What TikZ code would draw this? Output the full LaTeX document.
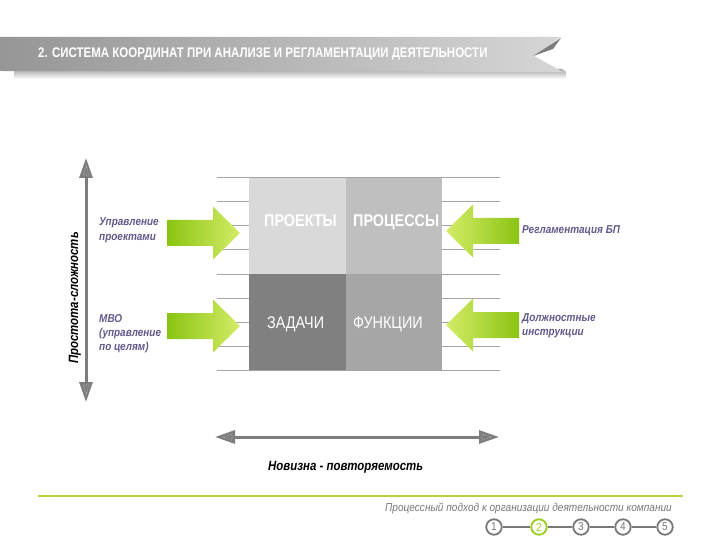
\documentclass[tikz,border=0pt]{standalone}
\usepackage{fontspec}
\setmainfont{Liberation Sans}
\newfontfamily\titlefont[FakeStretch=0.825]{Liberation Sans}
\newfontfamily\cellfont[FakeStretch=0.85]{Liberation Sans}
\newfontfamily\lblfont[FakeStretch=0.87]{Liberation Sans}
\newfontfamily\axfont[FakeStretch=0.85]{Liberation Sans}
\newfontfamily\footfont[FakeStretch=0.88]{Liberation Sans}
\usetikzlibrary{arrows.meta}
\definecolor{banL}{RGB}{150,150,150}
\definecolor{banR}{RGB}{214,214,214}
\definecolor{banD}{RGB}{125,125,125}
\definecolor{lblc}{RGB}{100,88,140}
\definecolor{gdark}{RGB}{138,196,18}
\definecolor{glight}{RGB}{212,236,104}
\definecolor{cA}{RGB}{217,217,217}
\definecolor{cB}{RGB}{191,191,191}
\definecolor{cC}{RGB}{128,128,128}
\definecolor{cD}{RGB}{166,166,166}
\definecolor{axisc}{RGB}{125,125,125}
\definecolor{gridc}{RGB}{165,165,165}
\definecolor{footg}{RGB}{180,210,70}
\definecolor{footc}{RGB}{120,120,120}
\definecolor{numg}{RGB}{154,204,30}
\begin{document}
\begin{tikzpicture}[x=1bp,y=-1bp,
  cell/.style={draw=none, minimum width=96.5bp, minimum height=96bp, inner sep=0pt},
  celltxt/.style={text=white, inner sep=0pt, anchor=base west, font=\cellfont\fontsize{17}{20}\selectfont},
  lbl/.style={text=lblc, inner sep=0pt, anchor=base west, font=\lblfont\fontsize{11.5}{14}\selectfont\bfseries\itshape},
  axlbl/.style={text=black, inner sep=0pt, anchor=base west, font=\axfont\fontsize{13.5}{16}\selectfont\bfseries\itshape},
  gline/.style={draw=gridc, line width=1bp},
  axisline/.style={draw=axisc, line width=3bp, {Triangle[length=20bp,width=13bp]}-{Triangle[length=20bp,width=13bp]}},
  tipmark/.style={draw=white!80!axisc, line width=0.6bp, dotted},
  stepc/.style={circle, draw=footc, line width=1.8bp, minimum size=15.5bp, inner sep=0pt, fill=white, text=footc, font=\footfont\fontsize{11.5}{13}\selectfont},
  stepline/.style={draw=footc, line width=1.5bp}
]
\useasboundingbox (0,0) rectangle (720,540);
\fill[white] (0,0) rectangle (720,540);

% banner shadow
\shade[top color=black!35, bottom color=white] (14,69) -- (562,69) -- (566,72) -- (566,79) -- (14,79) -- cycle;
% banner
\shade[left color=banL, right color=banR] (0,37) -- (561,37) -- (534,56) -- (563,72) -- (0,71) -- cycle;
\fill[banD] (533,56) -- (561,38) -- (553,49) -- cycle;
\node[anchor=base west, inner sep=0pt, text=white, font=\titlefont\fontsize{14}{16}\selectfont\bfseries] (title) at (38,58) {2. СИСТЕМА КООРДИНАТ ПРИ АНАЛИЗЕ И РЕГЛАМЕНТАЦИИ ДЕЯТЕЛЬНОСТИ};

% grid lines
\foreach \yy in {178,202,226,250,274,298,322,346,370}
  \draw[gline] (217,\yy) -- (500,\yy);

% cells
\node[cell, fill=cA] (proj) at (297.25,226) {};
\node[cell, fill=cB] (proc) at (393.75,226) {};
\node[cell, fill=cC] (task) at (297.25,322) {};
\node[cell, fill=cD] (func) at (393.75,322) {};
\node[celltxt, font=\cellfont\fontsize{17}{20}\selectfont\bfseries] (tproj) at (264,227) {ПРОЕКТЫ};
\node[celltxt, font=\cellfont\fontsize{17}{20}\selectfont\bfseries] (tproc) at (353,227) {ПРОЦЕССЫ};
\node[celltxt] (ttask) at (267,328) {ЗАДАЧИ};
\node[celltxt] (tfunc) at (353,328) {ФУНКЦИИ};

% green arrows
\shade[left color=gdark, right color=glight] (167,220) -- (213,220) -- (213,206.5) -- (240,233) -- (213,259.5) -- (213,246) -- (167,246) -- cycle;
\shade[left color=gdark, right color=glight] (167,313) -- (213,313) -- (213,299.5) -- (240,326) -- (213,352.5) -- (213,339) -- (167,339) -- cycle;
\shade[left color=glight, right color=gdark] (519,218) -- (473,218) -- (473,204.5) -- (446,231) -- (473,257.5) -- (473,244) -- (519,244) -- cycle;
\shade[left color=glight, right color=gdark] (519,312) -- (473,312) -- (473,298.5) -- (446,325) -- (473,351.5) -- (473,338) -- (519,338) -- cycle;

% labels
\node[lbl] (l1a) at (99,226) {Управление};
\node[lbl] (l1b) at (99,241) {проектами};
\node[lbl] (l2a) at (99,322) {МВО};
\node[lbl] (l2b) at (99,336) {(управление};
\node[lbl] (l2c) at (99,350) {по целям)};
\node[lbl] (r1) at (522,234) {Регламентация БП};
\node[lbl] (r2a) at (522,321) {Должностные};
\node[lbl] (r2b) at (522,335) {инструкции};

% vertical axis
\coordinate (vtop) at (86,158);
\coordinate (vbot) at (86,402);
\draw[axisline] (vtop) -- (vbot);
\draw[tipmark] (86,166) -- (83,175) -- (89,175) -- cycle;
\draw[tipmark] (86,394) -- (83,385) -- (89,385) -- cycle;
\node[axlbl, rotate=90] (vlab) at (78,364) {Простота-сложность};

% horizontal axis
\coordinate (hl) at (215,437);
\coordinate (hr) at (499,437);
\draw[axisline] (hl) -- (hr);
\draw[tipmark] (223,437) -- (232,434) -- (232,440) -- cycle;
\draw[tipmark] (491,437) -- (482,434) -- (482,440) -- cycle;
\node[axlbl] (hlab) at (268,470) {Новизна - повторяемость};

% footer
\coordinate (fl) at (38,496);
\coordinate (fr) at (683,496);
\draw[draw=footg, line width=1.5bp] (fl) -- (fr);
\node[anchor=base east, inner sep=0pt, text=footc, font=\footfont\fontsize{11.5}{14}\selectfont\itshape] (ftxt) at (672,511) {Процессный подход к организации деятельности компании};
\node[stepc] (n1) at (494,527) {1};
\node[stepc, draw=numg, text=numg] (n2) at (539,527) {2};
\node[stepc] (n3) at (581,527) {3};
\node[stepc] (n4) at (623,527) {4};
\node[stepc] (n5) at (665,527) {5};
\draw[stepline] (n1) -- (n2);
\draw[stepline] (n2) -- (n3);
\draw[stepline] (n3) -- (n4);
\draw[stepline] (n4) -- (n5);
\end{tikzpicture}
\end{document}
